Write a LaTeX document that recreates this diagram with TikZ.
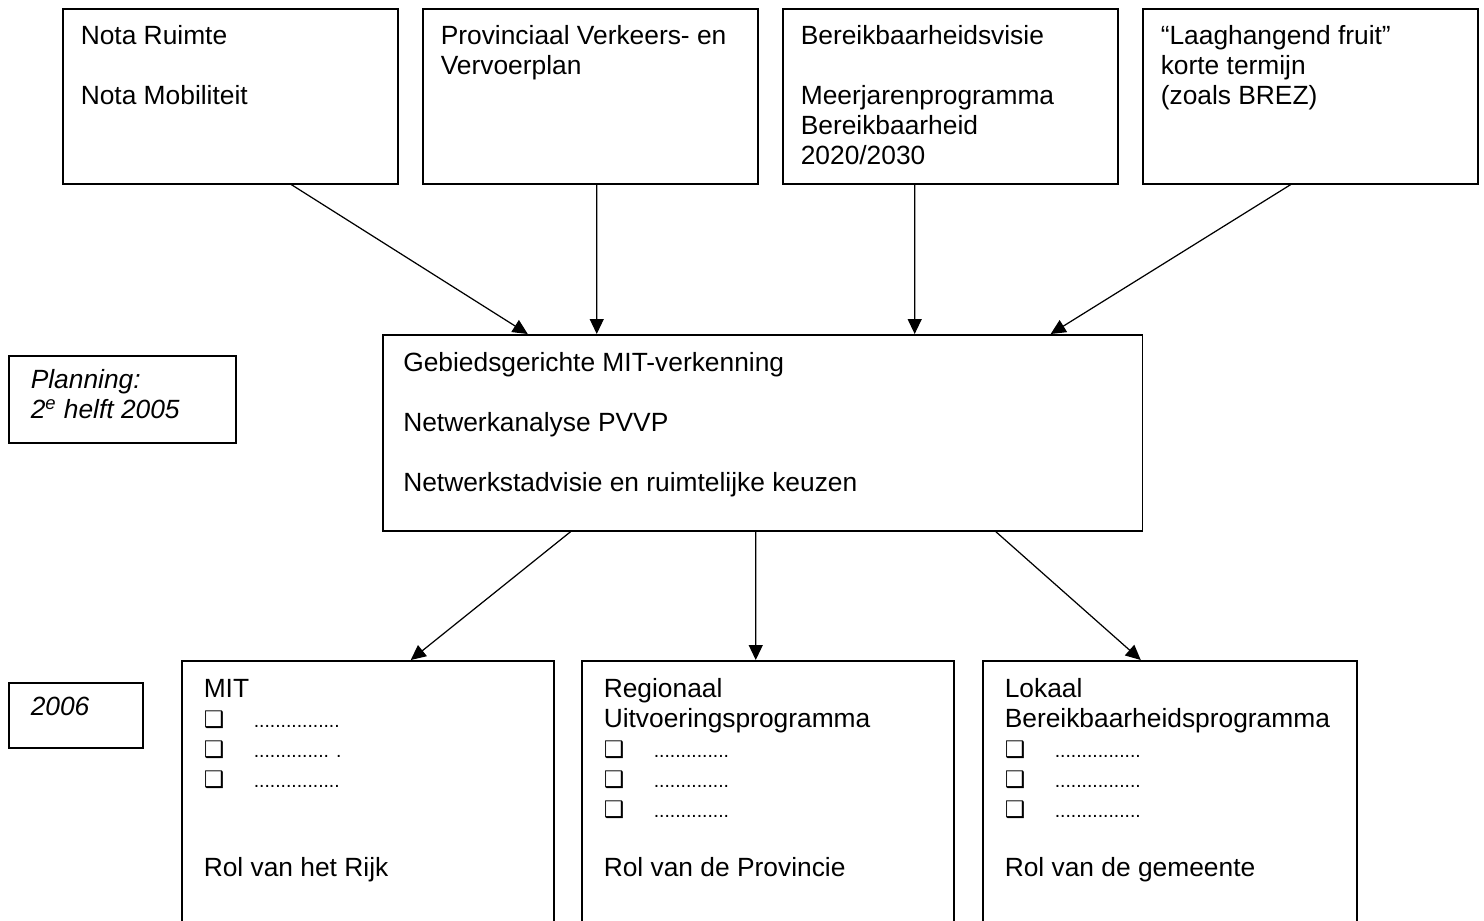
\documentclass[tikz,border=0pt]{standalone}
\usepackage{fontspec}
\setmainfont{Liberation Sans}
\newfontfamily\symfont{DejaVu Sans}
\usetikzlibrary{arrows.meta}
\newcommand{\boxtext}[4]{\parbox[c][#2][t]{#1}{\vspace*{#3}\strut #4}}
\newcommand{\chk}[1]{\makebox[1.0cm][l]{\symfont\fontsize{13}{17}\selectfont ❑}{\fontsize{11}{17}\selectfont #1}}
\begin{document}
\begin{tikzpicture}[x=0.02cm,y=-0.02cm,
  font=\fontsize{15}{17}\selectfont,
  box/.style={draw,line width=0.9pt,anchor=north west,inner xsep=0.36cm,inner ysep=0pt},
  wbox/.style={box,inner xsep=0.44cm},
  conn/.style={line width=0.7pt,-{Triangle[length=0.3cm,width=0.28cm]}}]
  \clip (0,0) rectangle (1484,920);
  \node[box] (nota) at (62,8) {\boxtext{5.98cm}{3.5cm}{8.6pt}{Nota Ruimte\\[17pt]Nota Mobiliteit}};
  \node[box] (pvvp) at (422,8) {\boxtext{5.98cm}{3.5cm}{8.6pt}{Provinciaal Verkeers- en\\Vervoerplan}};
  \node[box] (visie) at (782,8) {\boxtext{5.98cm}{3.5cm}{8.6pt}{Bereikbaarheidsvisie\\[17pt]Meerjarenprogramma\\Bereikbaarheid\\2020/2030}};
  \node[box] (fruit) at (1142,8) {\boxtext{5.98cm}{3.5cm}{8.6pt}{“Laaghangend fruit”\\korte termijn\\(zoals BREZ)}};
  \node[box,inner xsep=0.41cm] (verk) at (382,334) {\boxtext{14.38cm}{3.92cm}{9.1pt}{Gebiedsgerichte MIT-verkenning\\[17pt]Netwerkanalyse PVVP\\[17pt]Netwerkstadvisie en ruimtelijke keuzen}};
  \node[wbox] (plan) at (8,355) {\boxtext{3.66cm}{1.74cm}{6.9pt}{\itshape Planning:\\2\textsuperscript{e} helft 2005}};
  \node[wbox] (jaar) at (8,682) {\boxtext{1.8cm}{1.3cm}{6.9pt}{\itshape 2006}};
  \node[wbox] (mit) at (181,660) {\boxtext{6.56cm}{5.8cm}{9.1pt}{MIT\\\chk{................}\\\chk{.............. .}\\\chk{................}\\[34pt]Rol van het Rijk}};
  \node[wbox] (reg) at (581,660) {\boxtext{6.56cm}{5.8cm}{9.1pt}{Regionaal\\Uitvoeringsprogramma\\\chk{..............}\\\chk{..............}\\\chk{..............}\\[17pt]Rol van de Provincie}};
  \node[wbox,minimum width=7.48cm] (lok) at (982,660) {\boxtext{6.6cm}{5.8cm}{9.1pt}{Lokaal\\Bereikbaarheidsprogramma\\\chk{................}\\\chk{................}\\\chk{................}\\[17pt]Rol van de gemeente}};
  \draw[conn] ([xshift=1.22cm]nota.south) -- ([xshift=-4.7cm]verk.north);
  \draw[conn] ([xshift=0.13cm]pvvp.south) -- ([xshift=-3.32cm]verk.north);
  \draw[conn] ([xshift=-0.71cm]visie.south) -- ([xshift=3.04cm]verk.north);
  \draw[conn] ([xshift=-0.39cm]fruit.south) -- ([xshift=5.76cm]verk.north);
  \draw[conn] ([xshift=-3.84cm]verk.south) -- ([xshift=0.86cm]mit.north);
  \draw[conn] ([xshift=-0.14cm]verk.south) -- ([xshift=-0.24cm]reg.north);
  \draw[conn] ([xshift=4.66cm]verk.south) -- ([xshift=-0.58cm]lok.north);
\end{tikzpicture}
\end{document}
